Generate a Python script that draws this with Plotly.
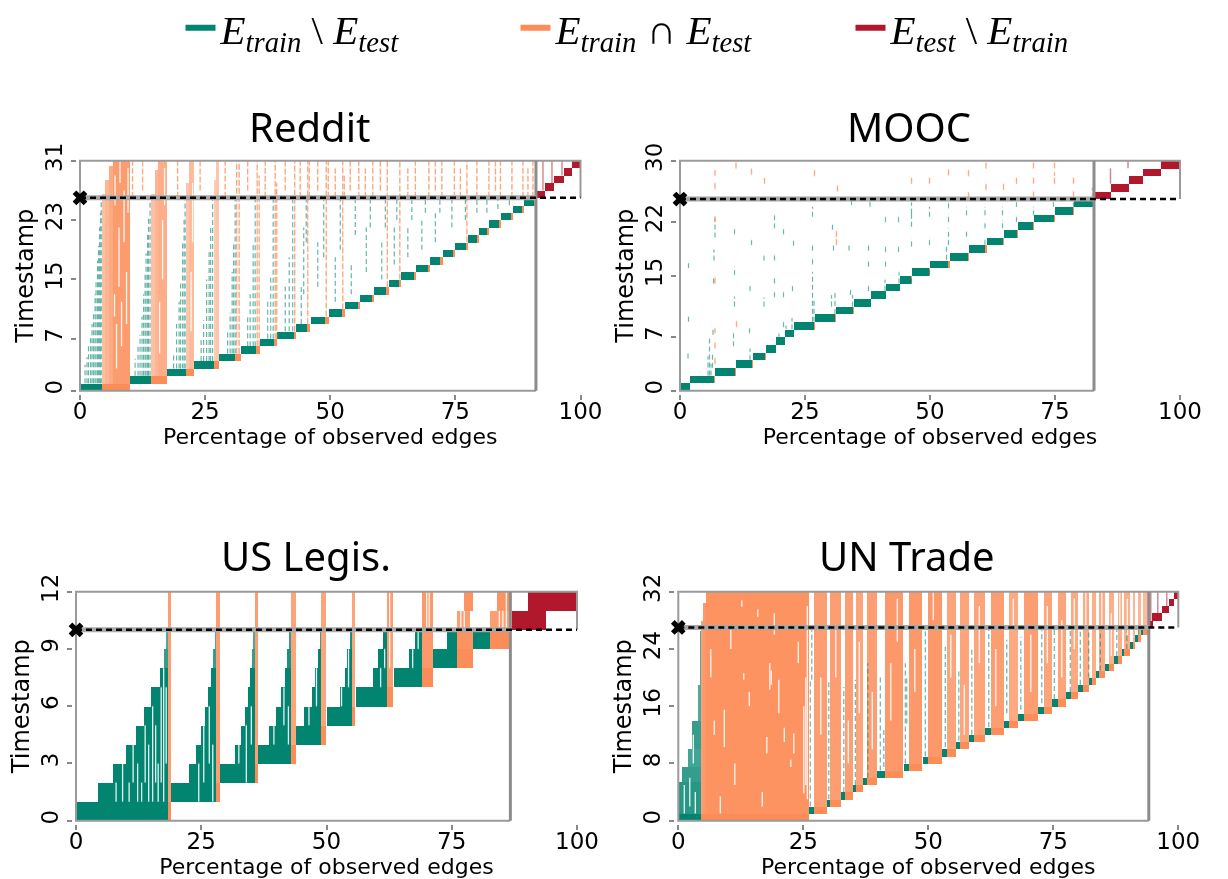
import plotly.graph_objects as go

# ------------------------------------------------------------------ DATA
# ---- Reddit
reddit_t_max = 31
reddit_t_split = 26
reddit_x_split = 91.1
reddit_yticks = [0, 7, 15, 23, 31]
reddit_step_start = [0.0, 10.0, 17.3, 22.8, 27.8, 32.1, 36.0, 39.4, 43.2, 46.2, 49.8, 53.0, 56.0,
                     58.8, 61.7, 64.2, 67.1, 69.9, 72.5, 75.0, 77.5, 79.7, 81.8, 84.1, 86.5, 88.7]
reddit_step_orange = [4.3, 14.2, 21.1, 26.7, 31.0, 35.2, 38.8, 42.7, 45.3, 49.0, 52.3, 55.5, 58.3,
                      61.2, 63.9, 66.8, 69.5, 72.0, 74.7, 77.2, 79.5, 81.5, 83.9, 86.3, 88.5, 90.7]
reddit_step_end = [10.0, 17.3, 22.8, 27.7, 32.1, 36.0, 39.4, 43.2, 46.0, 49.8, 53.0, 56.0, 58.8,
                   61.7, 64.2, 67.1, 69.9, 72.5, 75.0, 77.5, 79.7, 81.8, 84.1, 86.5, 88.7, 91.1]
reddit_test_start = [91.1, 93.0, 94.7, 96.7, 98.3]
reddit_test_end = [93.0, 94.7, 96.7, 98.3, 100.0]
reddit_orange_dense = [(4.3, 5.0, 1, 26.5, 0.55), (5.0, 5.8, 1, 28.5, 0.65), (5.8, 6.6, 1, 30.3, 0.75),
                       (6.6, 10.0, 1, 31, 0.88), (14.2, 14.9, 2, 26.5, 0.55), (14.9, 15.6, 2, 29.8, 0.65),
                       (15.6, 17.3, 2, 31, 0.72), (21.1, 21.7, 3, 28, 0.5), (21.7, 22.8, 3, 31, 0.6),
                       (26.7, 27.2, 4, 28.5, 0.45), (27.2, 27.7, 4, 31, 0.5)]
reddit_green_dense = []
reddit_green_streaks = [
    (1.0, 1, 3.5), (1.4, 1, 4.5), (1.7, 1, 6), (2.1, 1, 7.5), (2.4, 1, 9), (2.7, 1, 10.5), (3.0, 1, 13),
    (3.2, 1, 15), (3.5, 1, 17.5), (3.7, 1, 19.5), (3.9, 1, 22), (4.1, 1, 24), (4.25, 1, 26),
    (11.0, 2, 4.3), (11.6, 2, 6), (12.0, 2, 7.5), (12.4, 2, 10), (12.7, 2, 13), (13.0, 2, 16),
    (13.2, 2, 18.5), (13.5, 2, 21), (13.7, 2, 23.5), (14.0, 2, 26),
    (18.7, 3, 5), (19.3, 3, 9), (19.8, 3, 12), (20.1, 3, 14.5), (20.5, 3, 20), (20.8, 3, 23), (21.0, 3, 26),
    (24.2, 4, 7), (24.7, 4, 9.5), (25.3, 4, 15), (25.8, 4, 19), (26.1, 4, 22), (26.5, 4, 26),
    (29.5, 5, 8), (30.0, 5, 10.5), (30.4, 5, 16), (30.7, 5, 20), (31.0, 5, 26),
    (33.5, 6, 10), (34.0, 6, 13), (34.6, 6, 20), (35.0, 6, 26),
    (37.5, 7, 12), (38.1, 7, 15.5), (38.6, 7, 26), (41.0, 8, 14), (41.8, 8, 18), (42.5, 8, 26),
    (44.2, 9, 14), (44.7, 13, 22), (45.2, 20, 26), (47.5, 14, 20), (48.7, 18, 26),
    (51.0, 12, 18), (52.0, 19, 26), (54.2, 13, 17), (55.0, 21, 26), (57.2, 16, 22), (58.0, 22, 26),
    (60.3, 15, 20), (61.0, 22, 26), (62.8, 17, 22), (63.3, 23, 26), (65.5, 18, 22), (66.3, 23, 26),
    (68.3, 19, 23), (69.0, 24, 26), (71.0, 20, 24), (71.9, 24, 26), (74.3, 22, 26), (77.0, 23, 26),
    (79.3, 24, 26), (81.3, 24, 26), (83.5, 24.5, 26), (85.8, 25, 26)]
reddit_orange_streaks = [
    (31.3, 5, 31), (31.8, 5, 31), (35.4, 6, 31), (35.8, 6, 29), (39.0, 7, 31), (39.3, 7, 28), (42.9, 8, 31),
    (45.5, 9, 31), (45.8, 26, 31), (49.2, 10, 31), (49.6, 26, 31), (52.5, 11, 31), (52.8, 26, 29),
    (55.7, 26, 31), (58.5, 26, 31), (61.4, 14, 31), (63.9, 15, 31), (67.0, 26, 31), (69.7, 26, 31),
    (72.3, 26, 31), (74.8, 26, 31), (77.3, 20, 31), (79.3, 26, 31), (81.7, 26, 31), (84.0, 26, 31),
    (86.3, 26, 31), (88.5, 26, 31), (90.5, 26, 31), (10.5, 26, 31), (12.5, 27, 31), (19.5, 26, 31),
    (24.0, 27, 31), (29.0, 26, 31), (33.5, 27, 31), (37.0, 26, 31), (41.0, 27, 31), (44.0, 26, 31),
    (47.5, 27, 31), (51.0, 26, 30), (54.0, 27, 31), (57.0, 26, 30), (60.0, 27, 31), (65.5, 26, 30),
    (71.0, 27, 31), (76.0, 26, 30), (83.0, 27, 31), (89.5, 26, 30)]
reddit_red_streaks = [(92.5, 27, 31), (94.3, 28, 31), (96.3, 29, 31)]
reddit_gaps = [(7.3, 3, 9), (7.8, 14, 22), (8.3, 6, 12), (8.8, 20, 27), (9.3, 9, 16), (9.6, 24, 30),
               (7.0, 25, 29), (8.0, 28, 31), (6.9, 10, 13), (15.9, 5, 12), (16.5, 15, 23), (16.9, 25, 30),
               (22.2, 8, 16), (22.5, 20, 28)]

# ---- MOOC
mooc_t_max = 30
mooc_t_split = 25
mooc_x_split = 82.8
mooc_yticks = [0, 7, 15, 22, 30]
mooc_step_start = [0.0, 1.9, 7.0, 11.2, 14.5, 17.1, 19.1, 20.9, 22.7, 27.0, 31.2, 34.7, 38.1,
                   41.2, 43.9, 46.4, 50.0, 53.9, 57.8, 61.3, 64.7, 67.6, 70.8, 75.0, 78.8]
mooc_step_orange = [1.9, 6.8, 11.1, 14.4, 17.0, 19.1, 20.9, 22.7, 26.9, 31.1, 34.6, 38.1, 41.2,
                    43.9, 46.3, 49.8, 53.7, 57.7, 61.1, 64.6, 67.5, 70.7, 74.8, 78.7, 82.6]
mooc_step_end = [1.9, 7.0, 11.2, 14.5, 17.1, 19.1, 20.9, 22.7, 27.0, 31.2, 34.7, 38.1, 41.2,
                 43.9, 46.4, 50.0, 53.9, 57.8, 61.3, 64.7, 67.6, 70.8, 75.0, 78.8, 82.8]
mooc_test_start = [83.0, 86.1, 89.7, 92.6, 96.1]
mooc_test_end = [86.1, 89.7, 92.6, 96.1, 100.0]
mooc_orange_dense = []
mooc_green_dense = []
mooc_green_streaks = [
    (1.7, 16, 17), (1.7, 9, 10), (1.6, 4.2, 5.1), (5.6, 2, 4.5), (5.9, 2, 7), (6.2, 2, 3.5), (6.5, 3, 5),
    (6.6, 7.3, 8.3), (6.7, 14, 14.8), (6.8, 17, 18.4), (7.0, 20, 22.5), (10.7, 5.8, 7.9), (10.9, 20.4, 21.5),
    (10.9, 15.1, 16.2), (10.9, 11, 12.3), (14.0, 13, 14), (13.9, 7.5, 8.2), (14.3, 19, 20), (14.0, 4, 5.5),
    (16.8, 17, 18), (16.8, 11, 12.2), (18.9, 21.2, 22.9), (18.9, 17, 18), (18.9, 14, 14.8), (18.9, 12.2, 13),
    (20.7, 20.4, 21.5), (20.7, 12.2, 13.1), (20.7, 8.3, 9.2), (19.8, 6, 7.5), (21.2, 7, 8.5), (22.4, 8, 9.5),
    (22.7, 18.9, 19.8), (22.5, 13, 14), (26.5, 22.7, 24), (26.5, 18.3, 19.3), (26.5, 16.5, 17.5),
    (26.5, 9, 15.5), (26.8, 9, 12), (30.7, 18.3, 19.3), (30.3, 11, 12.5), (30.5, 21, 22), (31.0, 10, 13),
    (33.8, 18.3, 19.3), (34.1, 12.5, 13.5), (34.3, 24.2, 25), (34.5, 11, 12.5), (37.7, 18.3, 19.3),
    (37.7, 16.2, 17), (37.7, 13, 14), (38.0, 24, 25), (41.1, 22, 22.9), (41.1, 18.1, 19), (41.1, 16.2, 17),
    (41.0, 13, 14.5), (43.7, 22, 22.9), (43.7, 18.1, 19), (43.8, 14, 15.5), (46.3, 21.4, 23.1),
    (46.3, 14, 14.9), (46.3, 23.1, 24.6), (46.3, 18.8, 19.9), (49.9, 22.7, 24), (49.9, 19, 20.1),
    (49.9, 15.1, 15.9), (53.7, 23.8, 24.6), (53.7, 22, 23.1), (53.7, 20.1, 21.2), (53.7, 19, 19.9),
    (53.3, 17.1, 18.8), (57.3, 22.9, 24), (57.3, 20.1, 21), (61.0, 22.9, 24), (61.0, 21.2, 22),
    (61.0, 19, 19.9), (64.5, 22.9, 24), (64.5, 21.2, 22.3), (67.3, 24, 24.6), (67.3, 22, 22.9),
    (70.7, 22.9, 24), (74.7, 24, 24.6), (78.7, 24, 24.6)]
mooc_orange_streaks = [
    (7.0, 28, 29), (7.0, 26.3, 27.3), (7.0, 22, 22.8), (7.0, 14, 15), (7.0, 7.5, 8.2), (7.0, 5.5, 6.3),
    (7.0, 3.5, 4.3), (11.2, 29, 30), (11.3, 8.3, 9.2), (14.3, 28.2, 29), (16.9, 27, 28), (26.9, 28, 29),
    (31.5, 26, 27), (31.3, 19, 21), (46.3, 27, 28), (49.9, 27, 28), (53.7, 28.1, 29), (57.7, 28, 29),
    (57.7, 25.3, 25.9), (61.2, 29, 29.8), (61.2, 26.2, 27), (64.7, 26.2, 27), (67.3, 27, 28),
    (70.7, 29, 29.8), (70.7, 27, 28), (70.7, 25.3, 26), (74.9, 29, 30), (74.9, 27, 28.5), (78.7, 27, 28),
    (78.7, 25.3, 26), (82.5, 25, 26.5)]
mooc_red_streaks = [(86.1, 27, 29), (89.6, 29, 30)]
mooc_gaps = []

# ---- US Legis.
legis_t_max = 12
legis_t_split = 10
legis_x_split = 86.7
legis_yticks = [0, 3, 6, 9, 12]
legis_step_start = [0.0, 18.9, 28.7, 36.3, 44.0, 50.0, 55.9, 63.5, 71.2, 79.3]
legis_step_orange = [18.3, 28.0, 35.7, 43.0, 49.0, 55.0, 62.1, 69.0, 76.0, 82.7]
legis_step_end = [18.9, 28.7, 36.3, 44.0, 49.9, 55.7, 63.3, 71.2, 79.3, 86.5]
legis_test_start = [87.0, 90.3]
legis_test_end = [93.8, 100.0]
legis_green_dense = [
    (4.3, 18.3, 1, 2, 1), (7.3, 18.3, 2, 3, 1), (10.0, 18.3, 3, 4, 1), (11.9, 18.3, 4, 5, 1),
    (13.5, 18.3, 5, 6, 1), (15.0, 18.3, 6, 7, 1), (16.7, 18.3, 7, 8, 1), (17.6, 18.3, 8, 9, 0.8),
    (17.9, 18.3, 9, 10, 0.7),
    (22.5, 28.0, 2, 3, 1), (24.0, 28.0, 3, 4, 1), (25.0, 28.0, 4, 5, 1), (25.7, 28.0, 5, 6, 1),
    (26.3, 28.0, 6, 7, 1), (27.0, 28.0, 7, 8, 1), (27.4, 28.0, 8, 9, 0.8), (27.7, 28.0, 9, 10, 0.7),
    (31.7, 35.7, 3, 4, 1), (33.0, 35.7, 4, 5, 1), (33.7, 35.7, 5, 6, 1), (34.3, 35.7, 6, 7, 1),
    (34.8, 35.7, 7, 8, 1), (35.1, 35.7, 8, 9, 0.8), (35.4, 35.7, 9, 10, 0.7),
    (38.5, 43.0, 4, 5, 1), (40.0, 43.0, 5, 6, 1), (41.0, 43.0, 6, 7, 1), (41.7, 43.0, 7, 8, 1),
    (42.2, 43.0, 8, 9, 0.9), (42.6, 43.0, 9, 10, 0.8),
    (45.5, 49.0, 5, 6, 1), (47.2, 49.0, 6, 7, 1), (47.7, 49.0, 7, 8, 1), (48.3, 49.0, 8, 9, 1),
    (48.7, 49.0, 9, 10, 0.8),
    (52.7, 55.0, 6, 7, 1), (53.7, 55.0, 7, 8, 1), (54.0, 55.0, 8, 9, 1), (54.6, 55.0, 9, 10, 0.9),
    (59.2, 62.1, 7, 8, 1), (60.3, 62.1, 8, 9, 1), (61.3, 62.1, 9, 10, 1),
    (66.5, 69.0, 8, 9, 1), (67.7, 69.0, 9, 10, 1), (74.0, 76.0, 9, 10, 1)]
legis_orange_dense = [
    (18.3, 18.9, 1, 12, 0.85), (28.0, 28.7, 2, 12, 0.85), (35.7, 36.3, 3, 12, 0.85), (43.0, 44.0, 4, 12, 0.8),
    (49.0, 49.9, 5, 12, 0.8), (55.0, 55.7, 6, 12, 0.8), (62.1, 63.3, 7, 12, 0.85), (69.0, 71.2, 8, 12, 0.9),
    (76.0, 79.3, 9, 10, 0.95), (76.0, 78.7, 10, 11, 0.85), (77.5, 79.3, 11, 12, 0.95),
    (82.7, 86.5, 10, 11, 0.85), (84.0, 86.5, 11, 12, 0.95)]
legis_green_streaks = []
legis_orange_streaks = []
legis_red_streaks = []
legis_gaps = [
    (8.0, 1, 2), (9.3, 1, 3), (10.6, 1, 2), (11.4, 2, 4), (12.3, 1, 3), (13.1, 1, 2), (13.8, 2, 5),
    (14.5, 1, 4), (15.3, 1, 6), (15.9, 2, 5), (16.4, 1, 3), (17.0, 2, 7), (17.5, 1, 8), (18.0, 3, 7),
    (24.5, 1, 3), (25.5, 2, 5), (26.6, 3, 6), (27.3, 1, 4), (32.5, 3, 4), (34.0, 2, 5), (35.0, 4, 6),
    (39.5, 4, 5), (41.5, 5, 7), (42.4, 4, 6), (46.5, 5, 6), (48.0, 6, 8), (53.0, 6, 7), (54.4, 7, 9),
    (60.8, 7, 8), (61.6, 8, 9), (67.2, 8, 9), (68.3, 9, 10), (76.8, 10, 11), (77.5, 10, 11),
    (84.5, 10, 11), (85.2, 10, 11), (85.9, 10, 12), (70.0, 10, 12), (70.5, 10, 12), (62.6, 8, 12)]

# ---- UN Trade
un_t_max = 32
un_t_split = 27
un_x_split = 94.1
un_yticks = [0, 8, 16, 24, 32]
un_step_start = [0.0, 26.1, 29.7, 32.5, 35.0, 36.9, 39.8, 45.2, 49.0, 52.8, 55.5, 58.1, 61.4, 65.1,
                 67.9, 71.9, 74.8, 77.6, 80.0, 82.1, 83.6, 85.3, 87.2, 88.7, 90.3, 91.4, 92.5]
un_step_orange = [4.6, 27.1, 30.3, 33.3, 35.5, 37.7, 41.3, 46.1, 49.9, 53.7, 56.4, 59.1, 62.5, 66.1,
                  69.2, 73.1, 75.9, 78.5, 80.9, 82.7, 84.2, 86.1, 87.9, 89.2, 90.9, 92.0, 93.0]
un_step_end = [26.1, 29.7, 32.5, 35.0, 36.9, 39.8, 45.0, 48.8, 52.8, 55.5, 58.1, 61.4, 65.1, 67.9,
               71.9, 74.8, 77.6, 80.0, 82.1, 83.6, 85.3, 87.2, 88.7, 90.3, 91.4, 92.5, 94.1]
un_test_start = [94.1, 94.8, 96.7, 98.1, 99.1]
un_test_end = [95.0, 96.7, 98.1, 99.1, 100.0]
un_orange_dense = [
    (4.6, 5.0, 1, 28, 0.85), (5.0, 5.6, 1, 30.5, 0.9), (5.6, 26.1, 1, 32, 0.95),
    (27.1, 29.7, 2, 32, 0.85), (30.3, 32.5, 3, 32, 0.85), (33.3, 35.0, 4, 32, 0.85), (35.5, 36.9, 5, 32, 0.8),
    (37.7, 39.8, 6, 32, 0.85), (41.3, 45.0, 7, 32, 0.9), (46.1, 48.8, 8, 32, 0.9), (49.9, 52.8, 9, 32, 0.9),
    (53.7, 55.5, 10, 32, 0.8), (56.4, 58.1, 11, 32, 0.8), (59.1, 61.4, 12, 32, 0.8), (62.5, 65.1, 13, 32, 0.85),
    (66.1, 67.9, 14, 32, 0.75), (69.2, 71.9, 15, 32, 0.85), (73.1, 74.8, 16, 32, 0.8), (75.9, 77.6, 17, 32, 0.8),
    (78.5, 80.0, 18, 32, 0.75), (80.9, 82.1, 19, 32, 0.75), (82.7, 83.6, 20, 32, 0.7), (84.2, 85.3, 21, 32, 0.75),
    (86.1, 87.2, 22, 32, 0.7), (87.9, 88.7, 23, 32, 0.7), (89.2, 90.3, 24, 32, 0.7), (90.9, 91.4, 25, 32, 0.65),
    (92.0, 92.5, 26, 32, 0.65), (93.0, 94.1, 27, 32, 0.6)]
un_green_dense = [(0.2, 4.6, 1, 5.5, 0.85), (0.8, 4.6, 5.5, 7.5, 0.8), (2.0, 4.6, 7.5, 10, 0.75),
                  (2.7, 4.6, 10, 14, 0.8), (3.9, 4.6, 14, 19, 0.7), (4.3, 4.6, 19, 26.5, 0.7)]
un_green_streaks = [
    (26.4, 2, 19.7), (26.7, 19.7, 26.7), (30.1, 3, 19.7), (33.1, 4, 18.7), (35.4, 5, 19.7), (37.9, 6, 22),
    (40.4, 7, 20.1), (41.1, 7.5, 13.1), (45.4, 8, 22), (45.7, 13.6, 20.1), (49.4, 9, 26.7), (53.4, 10.3, 24.3),
    (56.1, 11.2, 21), (58.7, 12, 24.3), (62.1, 13.1, 26.7), (65.7, 15, 25.3), (68.5, 15.5, 25.7),
    (72.7, 16.4, 26.7), (75.2, 17, 26.7), (78.4, 18, 26.7), (80.4, 19, 26.7), (82.1, 20, 26.7),
    (84.4, 21, 26.7), (87.7, 23, 26.7), (89.7, 24, 26.7), (92.1, 26, 26.9)]
un_orange_streaks = []
un_red_streaks = [(94.5, 27, 32), (95.9, 28, 32), (97.7, 29, 32)]
un_gaps = [
    (8.4, 1, 3.4), (9.2, 10.3, 15.5), (12.7, 29.9, 30.8), (13.1, 19.7, 20.6), (15.9, 28.5, 29.5),
    (17.7, 9.4, 11.7), (18.3, 18.3, 22), (18.6, 19, 21), (20.1, 15, 19.7), (22.5, 7.5, 8.5), (23.1, 9.4, 12.2),
    (25.1, 3.8, 16), (25.5, 5, 20), (25.8, 3, 30), (6.5, 20, 24), (7.2, 12, 14), (10.5, 24, 27), (11.3, 5, 8),
    (14.2, 16, 18), (16.8, 2, 4), (19.2, 26, 29), (21.2, 11, 13), (24.0, 22, 25),
    (28.5, 12, 20), (31.5, 20, 27), (34.0, 8, 14), (36.2, 15, 25), (38.8, 10, 18), (42.5, 14, 22),
    (43.8, 25, 31), (47.3, 18, 24), (51.0, 28, 32), (54.5, 20, 26), (57.2, 12, 19), (60.2, 22, 30),
    (63.5, 16, 24), (67.0, 27, 31), (70.5, 18, 26), (73.8, 22, 30), (76.7, 20, 28), (79.2, 24, 31),
    (81.5, 27, 32), (84.7, 27, 32), (86.6, 23, 29), (88.3, 27, 32), (89.8, 26, 31),
    (1.2, 1, 5), (2.3, 2, 6), (3.4, 1, 4), (3.0, 8, 12)]

x_ticks = [0, 25, 50, 75, 100]
panel_titles = ["Reddit", "MOOC", "US Legis.", "UN Trade"]
legend_names = ["<i>E</i><sub><i>train</i></sub> \\ <i>E</i><sub><i>test</i></sub>",
                "<i>E</i><sub><i>train</i></sub> \u2229 <i>E</i><sub><i>test</i></sub>",
                "<i>E</i><sub><i>test</i></sub> \\ <i>E</i><sub><i>train</i></sub>"]

# ------------------------------------------------------------------ STYLE / LAYOUT
W, H = 1228, 879
GREEN = '#018571'
ORANGE = '#fc8d59'
RED = '#b2182b'
FRAME = '#9a9a9a'
TICKFONT = dict(family='DejaVu Sans', size=23, color='black')
XTITLEFONT = dict(family='DejaVu Sans', size=22, color='black')
YTITLEFONT = dict(family='DejaVu Sans', size=24, color='black')

# pixel anchors of each panel: x=0, x=100, y=0, y=max
anchors = [(80, 580.5, 390.7, 160.7), (680, 1180, 390.7, 160.7),
           (76, 577, 820.7, 591.7), (678.3, 1178.3, 820.7, 591.7)]
title_y = [127, 127, 555, 555]

datasets = [
    dict(T=reddit_t_max, ts=reddit_t_split, xs=reddit_x_split, yt=reddit_yticks, s=reddit_step_start,
         o=reddit_step_orange, e=reddit_step_end, rs=reddit_test_start, re=reddit_test_end,
         od=reddit_orange_dense, gd=reddit_green_dense, gs=reddit_green_streaks, os=reddit_orange_streaks,
         rds=reddit_red_streaks, gaps=reddit_gaps),
    dict(T=mooc_t_max, ts=mooc_t_split, xs=mooc_x_split, yt=mooc_yticks, s=mooc_step_start,
         o=mooc_step_orange, e=mooc_step_end, rs=mooc_test_start, re=mooc_test_end,
         od=mooc_orange_dense, gd=mooc_green_dense, gs=mooc_green_streaks, os=mooc_orange_streaks,
         rds=mooc_red_streaks, gaps=mooc_gaps),
    dict(T=legis_t_max, ts=legis_t_split, xs=legis_x_split, yt=legis_yticks, s=legis_step_start,
         o=legis_step_orange, e=legis_step_end, rs=legis_test_start, re=legis_test_end,
         od=legis_orange_dense, gd=legis_green_dense, gs=legis_green_streaks, os=legis_orange_streaks,
         rds=legis_red_streaks, gaps=legis_gaps),
    dict(T=un_t_max, ts=un_t_split, xs=un_x_split, yt=un_yticks, s=un_step_start,
         o=un_step_orange, e=un_step_end, rs=un_test_start, re=un_test_end,
         od=un_orange_dense, gd=un_green_dense, gs=un_green_streaks, os=un_orange_streaks,
         rds=un_red_streaks, gaps=un_gaps),
]


def rgba(hex_color, a):
    h = hex_color.lstrip('#')
    return 'rgba(%d,%d,%d,%s)' % (int(h[0:2], 16), int(h[2:4], 16), int(h[4:6], 16), a)


fig = go.Figure()


def add_bars(rects, color, xa, ya):
    if not rects:
        return
    xs, ws, bs, hs, cs = [], [], [], [], []
    for r in rects:
        x0, x1, t0, t1 = r[:4]
        a = r[4] if len(r) > 4 else 1.0
        if x1 - x0 <= 0:
            continue
        xs.append((x0 + x1) / 2.0)
        ws.append(x1 - x0)
        bs.append(t0)
        hs.append(t1 - t0)
        cs.append(rgba(color, a))
    fig.add_trace(go.Bar(x=xs, y=hs, base=bs, width=ws, marker=dict(color=cs, line=dict(width=0)),
                         xaxis=xa, yaxis=ya, showlegend=False, hoverinfo='skip'))


def add_streaks(segs, color, width, xa, ya, opacity=1.0, dash=None):
    if not segs:
        return
    xs, ys = [], []
    for x, t0, t1 in segs:
        xs += [x, x, None]
        ys += [t0, t1, None]
    fig.add_trace(go.Scatter(x=xs, y=ys, mode='lines',
                             line=dict(color=color, width=width, dash=dash),
                             opacity=opacity, xaxis=xa, yaxis=ya, showlegend=False, hoverinfo='skip'))


layout_axes = {}
annotations = []
PAD = 3.0
for n, (d, (x0p, x100p, y0p, yTp)) in enumerate(zip(datasets, anchors), start=1):
    xa = 'x' if n == 1 else 'x%d' % n
    ya = 'y' if n == 1 else 'y%d' % n
    T, ts, xsplit = d['T'], d['ts'], d['xs']
    sx = (x100p - x0p) / 100.0
    sy = (y0p - yTp) / float(T)

    # streaks (edges re-appearing)
    add_streaks(d['gs'], GREEN, 1.2, xa, ya, 0.6, '5px,3px')
    add_streaks(d['os'], ORANGE, 1.4, xa, ya, 0.75, '6px,2px')
    add_streaks(d['rds'], RED, 1.4, xa, ya, 0.55)
    # dense regions
    add_bars(d['od'], ORANGE, xa, ya)
    add_bars(d['gd'], GREEN, xa, ya)
    add_streaks(d['gaps'], 'white', 1.3, xa, ya, 0.9)
    # staircase of first appearance
    g_rows = [(s, o, t, t + 1) for t, (s, o) in enumerate(zip(d['s'], d['o']))]
    o_rows = [(o, e, t, t + 1) for t, (o, e) in enumerate(zip(d['o'], d['e']))]
    r_rows = [(s, e, ts + i, ts + i + 1) for i, (s, e) in enumerate(zip(d['rs'], d['re']))]
    add_bars(g_rows, GREEN, xa, ya)
    add_bars(o_rows, ORANGE, xa, ya)
    add_bars(r_rows, RED, xa, ya)

    # frames
    fig.add_trace(go.Scatter(x=[xsplit, 0, 0, 100, 100], y=[0, 0, T, T, ts], mode='lines',
                             line=dict(color=FRAME, width=2), xaxis=xa, yaxis=ya,
                             showlegend=False, hoverinfo='skip'))
    fig.add_trace(go.Scatter(x=[xsplit, xsplit], y=[0, T], mode='lines',
                             line=dict(color='#8c8c8c', width=3), xaxis=xa, yaxis=ya,
                             showlegend=False, hoverinfo='skip'))
    fig.add_trace(go.Scatter(x=[0, xsplit], y=[ts, ts], mode='lines',
                             line=dict(color='#a8a8a8', width=5), xaxis=xa, yaxis=ya,
                             showlegend=False, hoverinfo='skip'))
    fig.add_trace(go.Scatter(x=[0, 100], y=[ts, ts], mode='lines',
                             line=dict(color='black', width=2.5, dash='6px,4px'), xaxis=xa, yaxis=ya,
                             showlegend=False, hoverinfo='skip'))
    fig.add_trace(go.Scatter(x=[0], y=[ts], mode='markers', cliponaxis=False,
                             marker=dict(symbol='x', size=13, color='black', line=dict(width=0)),
                             xaxis=xa, yaxis=ya, showlegend=False, hoverinfo='skip'))

    xdom = [(x0p - PAD) / W, (x100p + PAD) / W]
    ydom = [1 - (y0p + PAD) / H, 1 - (yTp - PAD) / H]
    kx = 'xaxis' if n == 1 else 'xaxis%d' % n
    ky = 'yaxis' if n == 1 else 'yaxis%d' % n
    layout_axes[kx] = dict(domain=xdom, range=[-PAD / sx, 100 + PAD / sx], anchor=ya, automargin=False,
                           tickvals=x_ticks, ticks='outside', ticklen=5, tickwidth=1.5, tickcolor='#888',
                           ticklabelstandoff=-8,
                           showgrid=False, zeroline=False, showline=False, tickfont=TICKFONT,
                           title=dict(text='Percentage of observed edges', font=XTITLEFONT, standoff=0))
    layout_axes[ky] = dict(domain=ydom, range=[-PAD / sy, T + PAD / sy], anchor=xa, automargin=False,
                           tickvals=d['yt'], ticks='outside', ticklen=5, tickwidth=1.5, tickcolor='#888',
                           tickangle=-90, showgrid=False, zeroline=False, showline=False, tickfont=TICKFONT,
                           title=dict(text='Timestamp', font=YTITLEFONT, standoff=0))
    annotations.append(dict(text=panel_titles[n - 1], xref='paper', yref='paper',
                            x=((x0p + x100p) / 2.0 - 21) / W, y=1 - title_y[n - 1] / H,
                            xanchor='center', yanchor='middle', showarrow=False,
                            font=dict(family='Noto Sans', size=40, color='black')))

for name, col in zip(legend_names, [GREEN, ORANGE, RED]):
    fig.add_trace(go.Scatter(x=[None], y=[None], mode='lines', name=name,
                             line=dict(color=col, width=6), xaxis='x', yaxis='y', hoverinfo='skip'))

fig.update_layout(
    width=W, height=H, autosize=False, margin=dict(l=0, r=0, t=0, b=0, autoexpand=False),
    paper_bgcolor='white', plot_bgcolor='white', barmode='overlay', bargap=0,
    showlegend=True,
    legend=dict(orientation='h', x=0.5 + 69 / W, xanchor='center', y=1 - 28 / H, yanchor='middle',
                font=dict(family='Liberation Serif', size=41, color='black'),
                entrywidth=290, entrywidthmode='pixels', bgcolor='rgba(0,0,0,0)'),
    annotations=annotations,
    **layout_axes)

fig.write_html("out.html")
